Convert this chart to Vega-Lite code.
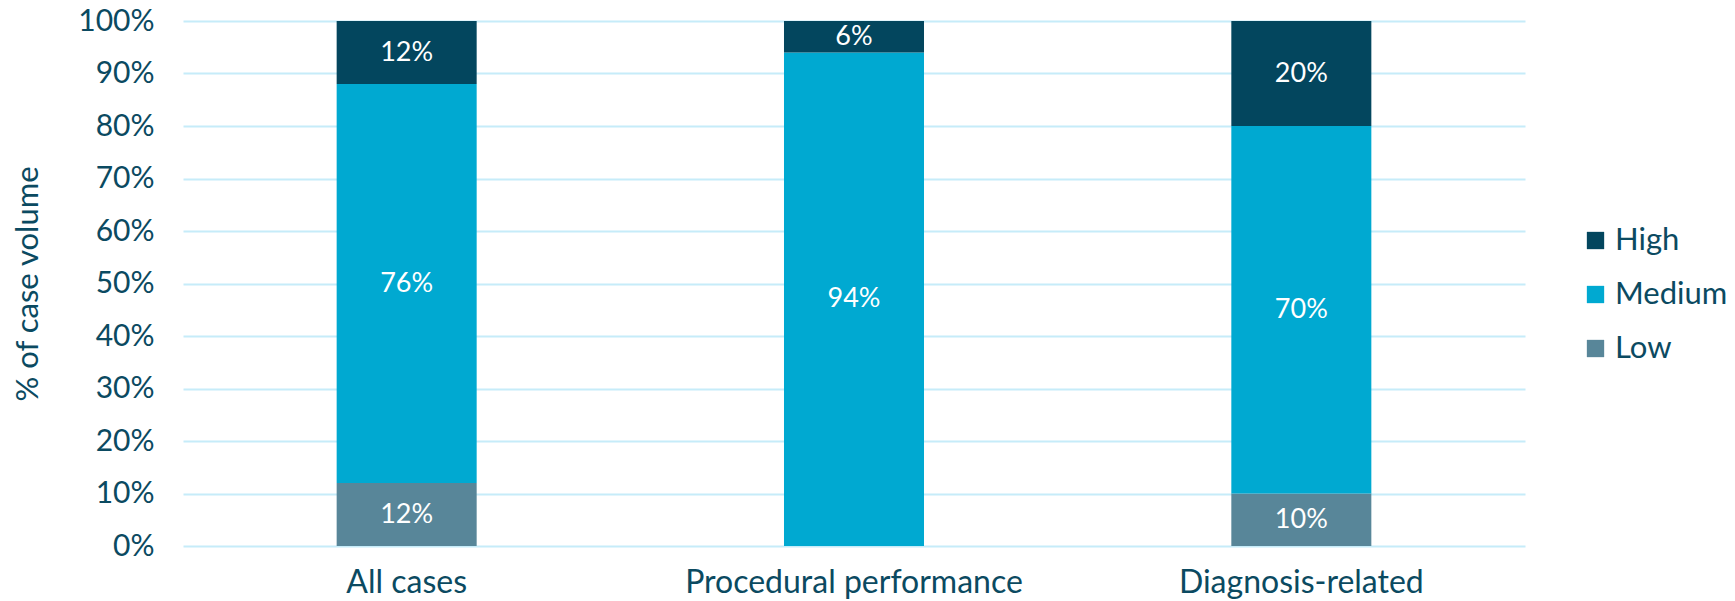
{
  "$schema": "https://vega.github.io/schema/vega-lite/v6.json",
  "autosize": "none",
  "width": 1342,
  "height": 525,
  "padding": {"left": 183, "top": 21, "right": 210, "bottom": 55},
  "background": "white",
  "config": {
    "font": "Lato",
    "view": {"stroke": null},
    "axis": {"labelColor": "#0b4a61", "titleColor": "#0b4a61", "domain": false, "ticks": false, "labelLimit": 0, "labelOverlap": false}
  },
  "data": {
    "values": [
      {"Group": "All cases", "Level": "Low", "Share": 0.12, "Order": 1},
      {"Group": "All cases", "Level": "Medium", "Share": 0.76, "Order": 2},
      {"Group": "All cases", "Level": "High", "Share": 0.12, "Order": 3},
      {"Group": "Procedural performance", "Level": "Low", "Share": 0.0, "Order": 1},
      {"Group": "Procedural performance", "Level": "Medium", "Share": 0.94, "Order": 2},
      {"Group": "Procedural performance", "Level": "High", "Share": 0.06, "Order": 3},
      {"Group": "Diagnosis-related", "Level": "Low", "Share": 0.10, "Order": 1},
      {"Group": "Diagnosis-related", "Level": "Medium", "Share": 0.70, "Order": 2},
      {"Group": "Diagnosis-related", "Level": "High", "Share": 0.20, "Order": 3}
    ]
  },
  "encoding": {
    "x": {
      "field": "Group", "type": "nominal", "sort": null, "title": null,
      "scale": {"paddingInner": 0.687, "paddingOuter": 0.3435},
      "axis": {"labelAngle": 0, "labelFontSize": 32, "labelPadding": 21}
    },
    "y": {
      "field": "Share", "type": "quantitative", "stack": "zero",
      "scale": {"domain": [0, 1]},
      "title": "% of case volume",
      "axis": {
        "format": ".0%", "values": [0, 0.1, 0.2, 0.3, 0.4, 0.5, 0.6, 0.7, 0.8, 0.9, 1],
        "labelFontSize": 30, "labelPadding": 29,
        "titleFontSize": 31, "titleFontWeight": "normal", "titlePadding": 33,
        "gridColor": "#c6ecf9", "gridWidth": 2
      }
    },
    "order": {"field": "Order", "type": "quantitative"}
  },
  "layer": [
    {
      "mark": {"type": "bar"},
      "encoding": {
        "color": {
          "field": "Level", "type": "nominal",
          "scale": {"domain": ["High", "Medium", "Low"], "range": ["#03465e", "#00a9d1", "#588699"]},
          "legend": {
            "title": null, "orient": "none", "legendX": 1397, "legendY": 204,
            "symbolType": "square", "symbolSize": 300, "symbolStrokeWidth": 0,
            "labelFontSize": 31, "labelColor": "#0b4a61", "labelOffset": 4,
            "rowPadding": 22
          }
        }
      }
    },
    {
      "transform": [{"filter": "datum.Share > 0"}],
      "mark": {"type": "text", "color": "white", "fontSize": 27, "baseline": "middle"},
      "encoding": {
        "y": {"field": "Share", "type": "quantitative", "stack": "zero", "bandPosition": 0.5},
        "text": {"field": "Share", "type": "quantitative", "format": ".0%"}
      }
    }
  ]
}
